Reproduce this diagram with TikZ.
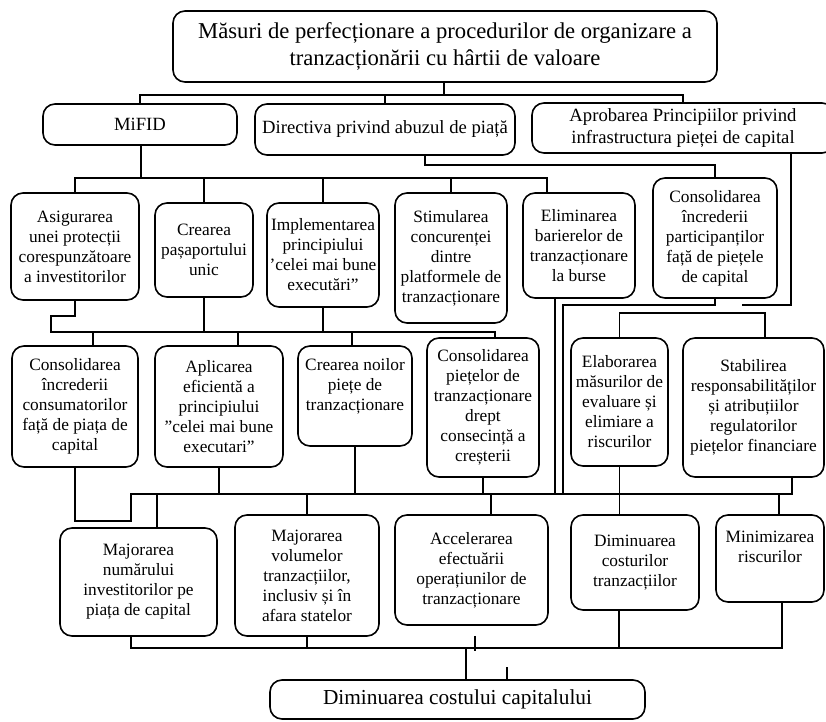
\documentclass[tikz,border=0pt]{standalone}
\usepackage{fontspec}
\setmainfont{Liberation Serif}
\begin{document}
\begin{tikzpicture}[x=0.75pt,y=-0.75pt,line width=1.2pt,
  blk/.style={draw,rounded corners=9pt,align=center,inner sep=0pt,font=\fontsize{13}{15}\selectfont},
  wh/.style 2 args={minimum width=#1*0.75pt,minimum height=#2*0.75pt}]
  \clip (0,0) rectangle (826,722);
  \fill[white] (0,0) rectangle (826,722);
  % level 0 and 1
  \node[blk,wh={544}{71},font=\fontsize{17}{20}\selectfont] (title) at (445,46.5) {Măsuri de perfecționare a procedurilor de organizare a\\tranzacționării cu hârtii de valoare};
  \node[blk,wh={194}{41},font=\fontsize{14}{17}\selectfont] (mifid) at (140,124.5) {MiFID};
  \node[blk,wh={260}{51},font=\fontsize{14}{17}\selectfont] (direct) at (385,129.5) {Directiva privind abuzul de piață};
  \node[blk,wh={302}{50},font=\fontsize{14}{17}\selectfont] (aprob) at (683,128) {Aprobarea Principiilor privind\\infrastructura pieței de capital};
  % level 2
  \node[blk,wh={128}{107}] (asig) at (75,246.5) {Asigurarea\\unei protecții\\corespunzătoare\\a investitorilor};
  \node[blk,wh={98}{94}] (crear) at (204,250) {Crearea\\pașaportului\\unic};
  \node[blk,wh={112}{104}] (impl) at (323,255) {Implementarea\\principiului\\’celei mai bune\\executări”};
  \node[blk,wh={112}{130}] (stim) at (451,258) {Stimularea\\concurenței\\dintre\\platformele de\\tranzacționare};
  \node[blk,wh={112}{105}] (elim) at (579,245.5) {Eliminarea\\barierelor de\\tranzacționare\\la burse};
  \node[blk,wh={124}{120}] (conspart) at (715,238) {Consolidarea\\încrederii\\participanților\\față de piețele\\de capital};
  % level 3
  \node[blk,wh={126}{121}] (consinc) at (75,406.5) {Consolidarea\\încrederii\\consumatorilor\\față de piața de\\capital};
  \node[blk,wh={128}{121}] (aplic) at (219,406.5) {Aplicarea\\eficientă a\\principiului\\”celei mai bune\\executari”};
  \node[blk,wh={114}{100}] (noi) at (355,396) {Crearea noilor\\piețe de\\tranzacționare\\[2pt]};
  \node[blk,wh={112}{139}] (conspiet) at (483,407.5) {Consolidarea\\piețelor de\\tranzacționare\\drept\\consecință a\\creșterii};
  \node[blk,wh={97}{128}] (elab) at (619.5,402) {Elaborarea\\măsurilor de\\evaluare și\\elimiare a\\riscurilor};
  \node[blk,wh={141}{139}] (stab) at (753.5,407.5) {Stabilirea\\responsabilităților\\și atribuțiilor\\regulatorilor\\piețelor financiare};
  % level 4
  \node[blk,wh={157}{108}] (majnum) at (138.5,582) {Majorarea\\numărului\\investitorilor pe\\piața de capital};
  \node[blk,wh={144}{121}] (majvol) at (307,575.5) {Majorarea\\volumelor\\tranzacțiilor,\\inclusiv și în\\afara statelor};
  \node[blk,wh={153}{110}] (accel) at (471.5,570) {Accelerarea\\efectuării\\operațiunilor de\\tranzacționare};
  \node[blk,wh={128}{95}] (dimcost) at (635,562.5) {Diminuarea\\costurilor\\tranzacțiilor};
  \node[blk,wh={108}{87}] (minim) at (770,558.5) {Minimizarea\\riscurilor\\[2pt]};
  \node[blk,wh={375}{39},font=\fontsize{16}{19}\selectfont] (final) at (457.5,699.5) {Diminuarea costului capitalului};
  % title -> level 1
  \coordinate (t1) at (444,95);
  \draw (title.south -| t1) -- (t1);
  \draw (mifid.north) -- (mifid.north |- t1) -| (aprob.north);
  \draw (direct.north) -- (direct.north |- t1);
  % MiFID -> level 2
  \coordinate (m1) at (141,178);
  \coordinate (m2) at (547,178);
  \draw (mifid.south -| m1) -- (m1);
  \draw (asig.north) |- (m2) -- (m2 |- elim.north);
  \foreach \n in {crear,impl,stim}
    \draw (\n.north) -- (\n.north |- m1);
  \coordinate (d1) at (425,165);
  \draw (direct.south -| d1) -- (d1) -| (conspart.north);
  \coordinate (a1) at (791,305);
  \coordinate (a2) at (742,305);
  \draw (aprob.south -| a1) -- (a1) -- (a2);
  % level 2 -> level 3
  \coordinate (r1) at (51,332);
  \coordinate (r2) at (495,332);
  \draw (asig.south) -- ++(0,15) -| (r1) -- (r2) -- (r2 |- conspiet.north);
  \draw (crear.south) -- (crear.south |- r1);
  \draw (impl.south) -- (impl.south |- r1);
  \foreach \x/\n in {93/consinc,238/aplic,352/noi}
    \draw (\x,332) -- (\x,0 |- \n.north);
  \coordinate (e2) at (765,313);
  \draw (elab.north) |- (e2) -- (e2 |- stab.north);
  % level 3 -> level 4
  \coordinate (bb) at (131,494);
  \coordinate (bbR) at (792,494);
  \coordinate (c1) at (563,305);
  \draw (conspart.south) -- (conspart.south |- c1) -- (c1) -- (c1 |- bb);
  \draw (555,0 |- elim.south) -- (555,0 |- bb);
  \draw (consinc.south) -- ++(0,53) -| (bb) -- (bbR) -- (stab.south -| bbR);
  \foreach \n in {aplic,noi,conspiet}
    \draw (\n.south) -- (\n.south |- bb);
  \draw (elab.south) -- (elab.south |- dimcost.north);
  \foreach \x/\n in {157/majnum,307/majvol,491/accel,779/minim}
    \draw (\x,494) -- (\x,0 |- \n.north);
  % level 4 -> final
  \coordinate (fb) at (131,648);
  \coordinate (fbR) at (782,648);
  \draw (fb |- majnum.south) -- (fb) -- (fbR) -- (fbR |- minim.south);
  \draw (majvol.south) -- (majvol.south |- fb);
  \draw (619,0 |- dimcost.south) -- (619,0 |- fb);
  \draw (accel.south) ++(3.5,10) -- ++(0,15);
  \draw (466,648) -- (466,0 |- final.north);
  \draw (507,667) -- (507,0 |- final.north);
\end{tikzpicture}
\end{document}
